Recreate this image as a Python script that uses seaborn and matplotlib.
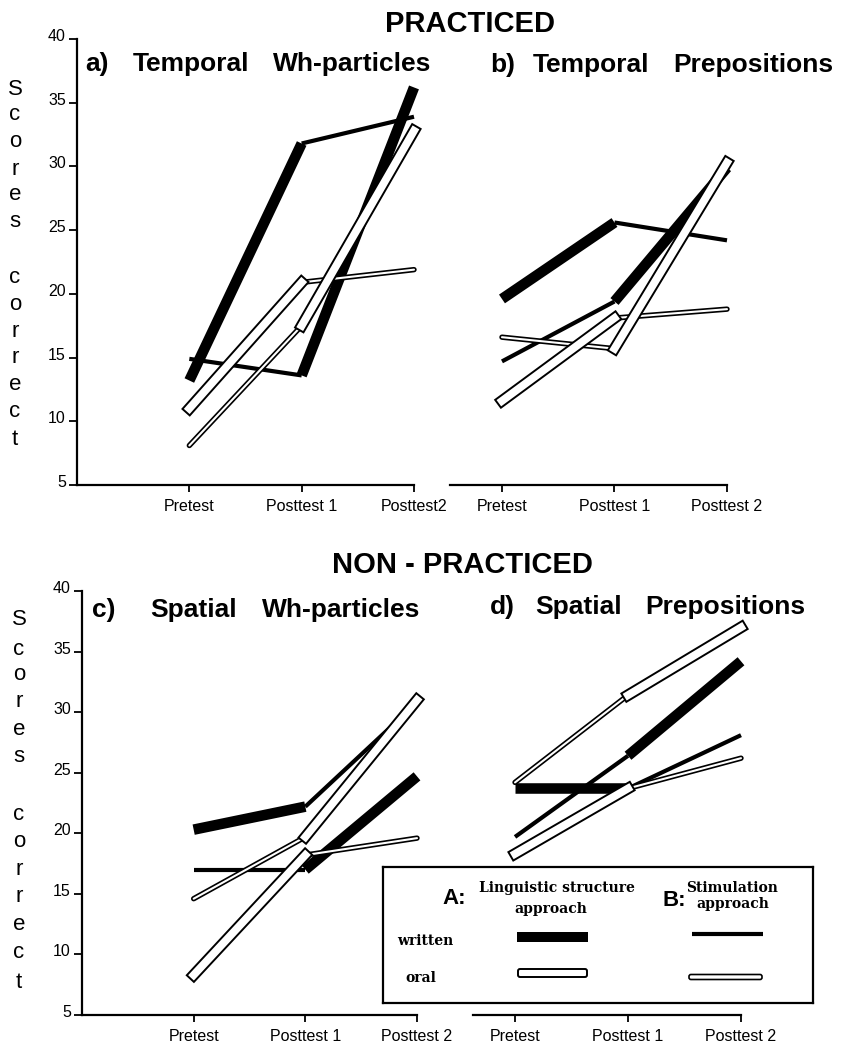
import numpy as np
import pandas as pd
import matplotlib
matplotlib.use("Agg")
import matplotlib.pyplot as plt
import matplotlib.transforms as mtransforms
from matplotlib import patheffects as pe
from matplotlib.patches import Rectangle, FancyBboxPatch
import seaborn as sns

# ---------------- data ----------------
phases = ["Pretest", "Posttest 1", "Posttest 2"]
xlabels_a = ["Pretest", "Posttest 1", "Posttest2"]
xlabels_other = ["Pretest", "Posttest 1", "Posttest 2"]
y_ticks = [5, 10, 15, 20, 25, 30, 35, 40]

# scores at Pretest, Posttest 1, Posttest 2
# *_w1 / *_o1 : drawn thick first, thin second ; *_w2 / *_o2 : thin first, thick second
a_w1 = [13.2, 31.8, 33.9]
a_w2 = [14.9, 13.6, 36.2]
a_o1 = [11.0, 20.9, 21.9]
a_o2 = [8.1, 17.5, 32.8]

b_w1 = [19.6, 25.6, 24.2]
b_w2 = [14.7, 19.4, 29.9]
b_o1 = [11.6, 18.1, 18.8]
b_o2 = [16.6, 15.7, 30.3]

c_w1 = [20.3, 22.2, 30.8]
c_w2 = [17.0, 17.0, 24.7]
c_o1 = [8.3, 18.2, 19.6]
c_o2 = [14.6, 19.7, 31.0]

d_w1 = [23.7, 23.7, 28.1]
d_w2 = [19.7, 26.4, 34.2]
d_o1 = [18.3, 23.7, 26.2]
d_o2 = [24.2, 31.4, 37.0]

panels = {
    "a": {"w1": a_w1, "w2": a_w2, "o1": a_o1, "o2": a_o2},
    "b": {"w1": b_w1, "w2": b_w2, "o1": b_o1, "o2": b_o2},
    "c": {"w1": c_w1, "w2": c_w2, "o1": c_o1, "o2": c_o2},
    "d": {"w1": d_w1, "w2": d_w2, "o1": d_o1, "o2": d_o2},
}

# ---------------- styles ----------------
seg_styles = {
    "w1": ("A_written", "B_written"),
    "w2": ("B_written", "A_written"),
    "o1": ("A_oral", "B_oral"),
    "o2": ("B_oral", "A_oral"),
}
STY = {
    "A_written": dict(color="black", lw=7.6, outline=None, cap="butt", z=2),
    "B_written": dict(color="black", lw=3.0, outline=None, cap="butt", z=2),
    "A_oral": dict(color="white", lw=5.6, outline=8.4, cap="projecting", z=4),
    "B_oral": dict(color="white", lw=1.5, outline=3.9, cap="round", z=3),
}

sns.set_style("ticks")
plt.rcParams["font.family"] = ["Liberation Sans", "DejaVu Sans"]
plt.rcParams.update({
    "text.color": "black", "axes.labelcolor": "black", "axes.edgecolor": "black",
    "xtick.color": "black", "ytick.color": "black",
})

W, H = 851, 1044
fig = plt.figure(figsize=(W / 100, H / 100), dpi=100)
fig.patch.set_facecolor("white")


def add_ax(left, right, top, bottom):
    return fig.add_axes([left / W, 1 - bottom / H, (right - left) / W, (bottom - top) / H])


axes = {
    "a": add_ax(77, 414, 39, 485),
    "b": add_ax(450, 727, 39, 485),
    "c": add_ax(82, 417, 591, 1015),
    "d": add_ax(473, 741, 591, 1015),
}
xlims = {"a": (-1, 2), "b": (-0.462, 2), "c": (-1, 2), "d": (-0.372, 2)}

for key, ax in axes.items():
    ax.set_facecolor("none")
    data = panels[key]
    for sname, vals in data.items():
        for i in range(2):
            st = STY[seg_styles[sname][i]]
            df = pd.DataFrame({"x": [i, i + 1], "y": [vals[i], vals[i + 1]]})
            kw = dict(color=st["color"], linewidth=st["lw"], solid_capstyle=st["cap"],
                      zorder=st["z"], clip_on=False)
            if st["outline"] is not None:
                kw["path_effects"] = [pe.Stroke(linewidth=st["outline"], foreground="black",
                                                capstyle=st["cap"]), pe.Normal()]
            sns.lineplot(data=df, x="x", y="y", ax=ax, legend=False, **kw)
    ax.set_xlim(*xlims[key])
    ax.set_ylim(5, 40)
    ax.set_xlabel("")
    ax.set_ylabel("")
    ax.set_xticks([0, 1, 2])
    ax.set_xticklabels(xlabels_a if key == "a" else xlabels_other, fontsize=11.5)
    ax.tick_params(axis="x", length=5, width=1.3, pad=5, colors="black")
    for s in ["top", "right"]:
        ax.spines[s].set_visible(False)
    ax.spines["bottom"].set_linewidth(1.6)
    ax.spines["bottom"].set_color("black")
    if key in ("a", "c"):
        ax.spines["left"].set_linewidth(1.6)
        ax.spines["left"].set_color("black")
        ax.set_yticks(y_ticks)
        ax.set_yticklabels([str(t) for t in y_ticks], fontsize=11.5)
        ax.tick_params(axis="y", length=6, width=1.3, pad=2, colors="black")
        off = mtransforms.ScaledTranslation(0, 4 / 100, fig.dpi_scale_trans)
        for lab in ax.get_yticklabels():
            lab.set_transform(lab.get_transform() + off)
    else:
        ax.spines["left"].set_visible(False)
        ax.set_yticks([])


def ftext(x, y, s, **kw):
    fig.text(x / W, 1 - y / H, s, color="black", **kw)


# headings
ftext(470, 32, "PRACTICED", ha="center", va="baseline", fontsize=21, fontweight="bold")
ftext(462, 573, "NON - PRACTICED", ha="center", va="baseline", fontsize=21, fontweight="bold")

# panel titles (word by word)
tkw = dict(ha="left", va="baseline", fontsize=19, fontweight="bold")
for x, w in [(85, "a)"), (133, "Temporal"), (273, "Wh-particles")]:
    ftext(x, 71, w, **tkw)
for x, w in [(490, "b)"), (533, "Temporal"), (673, "Prepositions")]:
    ftext(x, 72, w, **tkw)
for x, w in [(92, "c)"), (150, "Spatial"), (262, "Wh-particles")]:
    ftext(x, 617, w, **tkw)
for x, w in [(490, "d)"), (535, "Spatial"), (645, "Prepositions")]:
    ftext(x, 614, w, **tkw)

# vertical axis title, one letter per row
letters = list("Scores") + list("correct")
top_base = [95, 120, 147, 175, 200, 227, 283, 310, 337, 363, 390, 417, 445]
bot_base = [625, 655, 680, 707, 735, 762, 820, 847, 875, 902, 930, 958, 988]
for ch, yb in zip(letters, top_base):
    ftext(15, yb, ch, ha="center", va="baseline", fontsize=16)
for ch, yb in zip(letters, bot_base):
    ftext(19, yb, ch, ha="center", va="baseline", fontsize=16)

# ---------------- legend box ----------------
lx0, lx1, ly0, ly1 = 383, 813, 867, 1003
lax = add_ax(lx0, lx1, ly0, ly1)
lax.set_xlim(lx0, lx1)
lax.set_ylim(ly1, ly0)
lax.set_xticks([])
lax.set_yticks([])
lax.set_facecolor("white")
for s in lax.spines.values():
    s.set_visible(True)
    s.set_linewidth(1.6)
    s.set_color("black")

lkw = dict(fontsize=10, fontweight="bold", family=["DejaVu Serif"], ha="center", va="center",
           color="black")
lax.text(454, 899, "A:", fontsize=16, fontweight="bold", ha="center", va="center", color="black")
lax.text(674, 900, "B:", fontsize=16, fontweight="bold", ha="center", va="center", color="black")
lax.text(557, 888, "Linguistic structure", **lkw)
lax.text(551, 909, "approach", **lkw)
lax.text(732, 888, "Stimulation", **lkw)
lax.text(733, 904, "approach", **lkw)
lax.text(425, 941, "written", **lkw)
lax.text(421, 978, "oral", **lkw)

lax.add_patch(Rectangle((517, 932), 71, 10, facecolor="black", edgecolor="none"))
lax.add_patch(FancyBboxPatch((518, 969), 69, 8, boxstyle="round,pad=0,rounding_size=2",
                             facecolor="white", edgecolor="black", linewidth=1.4))
lax.plot([692, 763], [934, 934], color="black", linewidth=3.0, solid_capstyle="butt")
lax.add_patch(FancyBboxPatch((689, 974.5), 73, 5, boxstyle="round,pad=0,rounding_size=2",
                             facecolor="white", edgecolor="black", linewidth=1.2))

fig.savefig("out.png", dpi=100, facecolor="white")
